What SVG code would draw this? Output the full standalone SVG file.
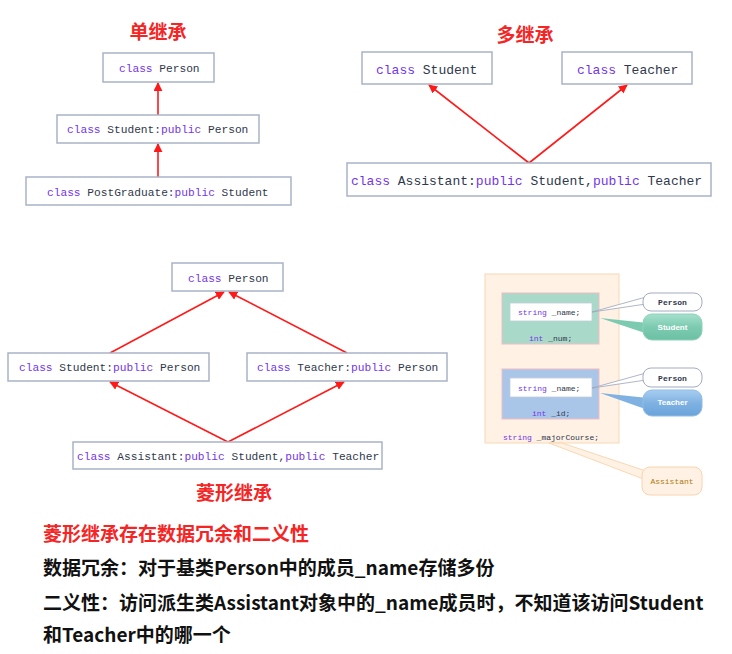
<svg xmlns="http://www.w3.org/2000/svg" width="732" height="654" viewBox="0 0 732 654">
  <style>
    .box { fill: #ffffff; stroke: #a9b3c6; stroke-width: 1.5; }
    .code { font-family: "Liberation Mono", "DejaVu Sans Mono", monospace; fill: #2f384c; }
    .kw { fill: #7236ea; }
    .c11 { font-size: 11.2px; }
    .c13 { font-size: 13px; }
    .c8 { font-size: 8px; }
    .gold { fill: #b07a10; }
    .title { font-family: "Noto Sans CJK SC", "Noto Sans", sans-serif; font-weight: bold; font-size: 19px; fill: #f52525; }
    .body { font-family: "Noto Sans CJK SC", "Noto Sans", sans-serif; font-weight: bold; font-size: 19px; fill: #111111; }
    .edge { stroke: #ff1a1a; stroke-width: 1.6; fill: none; marker-end: url(#head); }
    .bubbleText { font-family: "Liberation Sans", "Noto Sans", sans-serif; font-weight: bold; font-size: 8px; fill: #ffffff; }
  </style>
  <defs>
    <marker id="head" viewBox="0 0 10 10" refX="9" refY="5" markerWidth="9" markerHeight="9" markerUnits="userSpaceOnUse" orient="auto">
      <path d="M0,0 L10,5 L0,10 z" fill="#ff1a1a"/>
    </marker>
    <linearGradient id="green" x1="0" y1="0" x2="0" y2="1">
      <stop offset="0" stop-color="#a6e0cc"/>
      <stop offset="0.5" stop-color="#7ccbb0"/>
      <stop offset="1" stop-color="#6cc0a4"/>
    </linearGradient>
    <linearGradient id="blue" x1="0" y1="0" x2="0" y2="1">
      <stop offset="0" stop-color="#a8cdf0"/>
      <stop offset="0.5" stop-color="#7fb2e2"/>
      <stop offset="1" stop-color="#6aa3da"/>
    </linearGradient>
  </defs>

  <rect width="732" height="654" fill="#ffffff"/>

  <!-- section titles -->
  <text class="title" x="158" y="39" text-anchor="middle">单继承</text>
  <text class="title" x="525" y="42" text-anchor="middle">多继承</text>
  <text class="title" x="234" y="500" text-anchor="middle">菱形继承</text>

  <!-- connectors -->
  <g id="connectors">
    <!-- single inheritance -->
    <line class="edge" x1="158" y1="115" x2="158" y2="83"/>
    <line class="edge" x1="158" y1="177" x2="158" y2="144"/>
    <!-- multiple inheritance -->
    <line class="edge" x1="529" y1="163" x2="429" y2="85"/>
    <line class="edge" x1="529" y1="163" x2="627" y2="85"/>
    <!-- diamond inheritance -->
    <line class="edge" x1="110" y1="353" x2="224" y2="292"/>
    <line class="edge" x1="347" y1="353" x2="229" y2="292"/>
    <line class="edge" x1="228" y1="442" x2="110" y2="382"/>
    <line class="edge" x1="228" y1="442" x2="344" y2="382"/>
  </g>

  <!-- single inheritance nodes -->
  <g id="s-person">
    <rect class="box" x="103" y="53" width="111" height="29"/>
    <text class="code c11" x="119" y="72"><tspan class="kw">class</tspan> Person</text>
  </g>
  <g id="s-student">
    <rect class="box" x="57" y="115" width="202" height="28"/>
    <text class="code c11" x="67" y="133"><tspan class="kw">class</tspan> Student:<tspan class="kw">public</tspan> Person</text>
  </g>
  <g id="s-postgraduate">
    <rect class="box" x="26" y="177" width="265" height="28"/>
    <text class="code c11" x="47" y="196"><tspan class="kw">class</tspan> PostGraduate:<tspan class="kw">public</tspan> Student</text>
  </g>

  <!-- multiple inheritance nodes -->
  <g id="m-student">
    <rect class="box" x="362" y="52" width="130" height="32"/>
    <text class="code c13" x="376" y="74"><tspan class="kw">class</tspan> Student</text>
  </g>
  <g id="m-teacher">
    <rect class="box" x="562" y="52" width="130" height="32"/>
    <text class="code c13" x="577" y="74"><tspan class="kw">class</tspan> Teacher</text>
  </g>
  <g id="m-assistant">
    <rect class="box" x="347" y="163" width="364" height="33"/>
    <text class="code c13" x="351" y="185"><tspan class="kw">class</tspan> Assistant:<tspan class="kw">public</tspan> Student,<tspan class="kw">public</tspan> Teacher</text>
  </g>

  <!-- diamond inheritance nodes -->
  <g id="d-person">
    <rect class="box" x="172" y="263" width="111" height="28"/>
    <text class="code c11" x="188" y="282"><tspan class="kw">class</tspan> Person</text>
  </g>
  <g id="d-student">
    <rect class="box" x="8" y="353" width="201" height="28"/>
    <text class="code c11" x="19" y="371"><tspan class="kw">class</tspan> Student:<tspan class="kw">public</tspan> Person</text>
  </g>
  <g id="d-teacher">
    <rect class="box" x="247" y="353" width="200" height="28"/>
    <text class="code c11" x="257" y="371"><tspan class="kw">class</tspan> Teacher:<tspan class="kw">public</tspan> Person</text>
  </g>
  <g id="d-assistant">
    <rect class="box" x="73" y="442" width="309" height="27"/>
    <text class="code c11" x="77" y="460"><tspan class="kw">class</tspan> Assistant:<tspan class="kw">public</tspan> Student,<tspan class="kw">public</tspan> Teacher</text>
  </g>

  <!-- object memory layout of Assistant -->
  <g id="layout">
    <rect x="485" y="274" width="134" height="169" fill="#fff1e4" stroke="#f8d8b4" stroke-width="1"/>
    <!-- Student subobject -->
    <rect x="502" y="293" width="97" height="51" fill="#a9d9c9" stroke="#f0bcc4" stroke-width="1"/>
    <rect x="510" y="303" width="82" height="18" fill="#ffffff" stroke="#c4cbd6" stroke-width="0.8"/>
    <text class="code c8" x="518" y="315"><tspan class="kw">string</tspan> _name;</text>
    <text class="code c8" x="529" y="341"><tspan class="kw">int</tspan> _num;</text>
    <!-- Teacher subobject -->
    <rect x="502" y="369" width="97" height="50" fill="#a9c6e9" stroke="#f0bcc4" stroke-width="1"/>
    <rect x="510" y="378" width="82" height="19" fill="#ffffff" stroke="#c4cbd6" stroke-width="0.8"/>
    <text class="code c8" x="518" y="391"><tspan class="kw">string</tspan> _name;</text>
    <text class="code c8" x="532" y="416"><tspan class="kw">int</tspan> _id;</text>
    <!-- own member -->
    <text class="code c8" x="503" y="440"><tspan class="kw">string</tspan> _majorCourse;</text>
  </g>

  <!-- callouts -->
  <g id="callout-person-1">
    <polygon points="592,312 646,297 646,304" fill="#ffffff" stroke="#9aa3b8" stroke-width="0.8"/>
    <rect x="643" y="293" width="59" height="18" rx="8" fill="#ffffff" stroke="#a3abc0" stroke-width="1"/>
    <text class="code c8" x="672.5" y="305" text-anchor="middle" font-weight="bold">Person</text>
  </g>
  <g id="callout-student">
    <polygon points="600,318 648,323 648,334" fill="#7ccbb0"/>
    <rect x="643" y="314" width="59" height="26" rx="9" fill="url(#green)" stroke="#8fd2bc" stroke-width="1"/>
    <text class="bubbleText" x="672.5" y="330" text-anchor="middle">Student</text>
  </g>
  <g id="callout-person-2">
    <polygon points="592,388 646,373 646,380" fill="#ffffff" stroke="#9aa3b8" stroke-width="0.8"/>
    <rect x="643" y="368" width="59" height="19" rx="8" fill="#ffffff" stroke="#a3abc0" stroke-width="1"/>
    <text class="code c8" x="672.5" y="381" text-anchor="middle" font-weight="bold">Person</text>
  </g>
  <g id="callout-teacher">
    <polygon points="600,393 648,398 648,410" fill="#7fb2e2"/>
    <rect x="643" y="390" width="59" height="26" rx="9" fill="url(#blue)" stroke="#90bde6" stroke-width="1"/>
    <text class="bubbleText" x="672.5" y="405" text-anchor="middle">Teacher</text>
  </g>
  <g id="callout-assistant">
    <polygon points="549,443 562,443 646,471 646,480" fill="#fff1e4" stroke="#f8cfa4" stroke-width="0.8"/>
    <rect x="642" y="467" width="60" height="28" rx="8" fill="#fff1e4" stroke="#f8d4ae" stroke-width="1"/>
    <text class="code c8 gold" x="672" y="484" text-anchor="middle">Assistant</text>
  </g>

  <!-- notes -->
  <text class="title" x="43" y="541">菱形继承存在数据冗余和二义性</text>
  <text class="body" x="43" y="575">数据冗余：对于基类Person中的成员_name存储多份</text>
  <text class="body" x="43" y="610">二义性：访问派生类Assistant对象中的_name成员时，不知道该访问Student</text>
  <text class="body" x="43" y="642">和Teacher中的哪一个</text>
</svg>
